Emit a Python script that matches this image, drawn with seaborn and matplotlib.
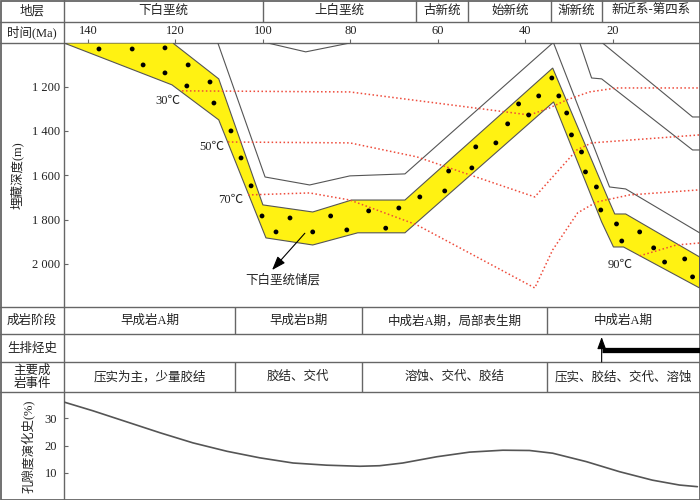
import numpy as np
import pandas as pd
import seaborn as sns
import matplotlib.pyplot as plt

sns.set_theme(style='white')
plt.rcParams['font.family'] = ['Liberation Serif', 'Noto Sans CJK SC']
plt.rcParams['axes.unicode_minus'] = False

# ---------------- data ----------------
unit_names = ['下白垩统', '上白垩统', '古新统', '始新统', '渐新统', '新近系-第四系']
unit_bounds = [145.5, 100, 65, 53, 34, 22.5, 0]

time_ticks = [140, 120, 100, 80, 60, 40, 20]
depth_ticks = [1200, 1400, 1600, 1800, 2000]
depth_labels = ['1 200', '1 400', '1 600', '1 800', '2 000']

# reservoir band outline (Ma, m)
band_t = [145.5, 120.6, 110.1, 100.0, 88.6, 79.7, 67.5, 33.7, 20.9, 19.5, 17.0, 0.1,
          0.1, 17.5, 19.8, 22.5, 33.5, 67.5, 78.3, 88.6, 99.3, 110.1, 120.8]
band_d = [1003, 1003, 1165, 1734, 1766, 1712, 1712, 1116, 1712, 1775, 1775, 1969,
          2109, 1924, 1924, 1811, 1269, 1860, 1860, 1915, 1883, 1350, 1192]

dot_t = [137.5, 129.9, 122.4, 127.4, 117.1, 122.4, 112.1, 117.4, 111.2, 107.3,
         105.0, 102.7, 100.2, 93.8, 97.0, 88.6, 84.5, 80.8, 75.8, 68.9,
         71.9, 64.1, 58.4, 57.5, 52.2, 51.3, 46.7, 44.0, 39.2, 41.5,
         36.9, 33.9, 32.3, 30.5, 29.4, 27.1, 26.2, 23.7, 22.7, 19.1,
         13.8, 17.9, 10.6, 8.1, 3.5, 1.7]
dot_d = [1030, 1030, 1025, 1102, 1102, 1138, 1179, 1197, 1274, 1400,
         1522, 1648, 1784, 1793, 1856, 1856, 1784, 1847, 1761, 1748,
         1839, 1698, 1671, 1581, 1567, 1472, 1454, 1368, 1328, 1278,
         1242, 1161, 1242, 1319, 1418, 1495, 1585, 1653, 1757, 1820,
         1856, 1897, 1928, 1992, 1978, 2059]

# other burial curves
lineA_t = [110.3, 99.5, 89.3, 80.1, 67.5, 33.7]
lineA_d = [1003, 1608, 1644, 1603, 1594, 1003]
lineB_t = [98.9, 90.2, 80.1]
lineB_d = [1003, 1043, 1003]
lineC_t = [33.5, 20.7, 17.0, 0.1]
lineC_d = [1003, 1653, 1662, 1860]
lineD_t = [27.5, 24.8, 22.5, 1.7, 0.1]
lineD_d = [1003, 1161, 1165, 1486, 1486]
lineE_t = [22.3, 1.7, 0.1]
lineE_d = [1003, 1337, 1337]

# isotherms
iso30_t = [118.5, 80.1, 39.0, 34.4, 30.5, 25.3, 19.1, 0.1]
iso30_d = [1219, 1224, 1328, 1296, 1260, 1224, 1206, 1206]
iso50_t = [108.0, 80.1, 64.8, 37.8, 28.2, 24.8, 0.1]
iso50_d = [1450, 1454, 1517, 1698, 1486, 1454, 1418]
iso70_t = [103.4, 89.3, 80.1, 64.8, 37.8, 33.7, 28.0, 23.7, 16.1, 0.1]
iso70_d = [1689, 1680, 1712, 1824, 2109, 1937, 1770, 1721, 1689, 1666]
iso90_t = [13.8, 5.4, 0.1]
iso90_d = [1964, 1915, 1906]
iso_names = ['30℃', '50℃', '70℃', '90℃']

# diagenesis
stage_bounds = [145.5, 106.4, 77.4, 34.9, 0]
stage_names = ['早成岩A期', '早成岩B期', '中成岩A期，局部表生期', '中成岩A期']
event_names = ['压实为主，少量胶结', '胶结、交代', '溶蚀、交代、胶结', '压实、胶结、交代、溶蚀']
hc_start = 22.5

# porosity evolution
por_t = [145.7, 138.9, 131.1, 123.5, 116.0, 108.2, 100.7, 93.1, 85.4, 77.8, 73.3,
         68.0, 60.2, 52.7, 45.1, 39.0, 33.7, 26.0, 18.4, 10.9, 4.7, 0.6]
por_v = [36.1, 32.8, 28.7, 24.7, 21.0, 17.9, 15.5, 13.6, 12.8, 12.4, 12.6,
         13.6, 15.9, 17.6, 18.3, 18.2, 17.2, 14.1, 10.4, 7.3, 5.5, 4.9]

# ---------------- layout ----------------
W, H = 700, 500


def box(x0, y0, x1, y1):
    return [x0 / W, 1 - y1 / H, (x1 - x0) / W, (y1 - y0) / H]


line_c = '#666666'
text_c = '#222222'
red_c = '#EE4B3B'
fs = 9

fig = plt.figure(figsize=(7, 5), dpi=100)

bg = fig.add_axes([0, 0, 1, 1])
bg.set_xlim(0, W)
bg.set_ylim(H, 0)
bg.axis('off')
for y in [22, 43, 307, 334, 362, 392]:
    bg.plot([0, W], [y, y], color=line_c, lw=1)
bg.plot([64, 64], [0, H], color=line_c, lw=1)
bg.add_patch(plt.Rectangle((0.5, 0.5), W - 1, H - 1, fill=False, ec=line_c, lw=1.3))

bg.text(32, 11, '地层', ha='center', va='center', fontsize=fs, color=text_c)
bg.text(32, 32, '时间(Ma)', ha='center', va='center', fontsize=fs, color=text_c)
bg.text(17, 175, '埋藏深度(m)', ha='center', va='center', rotation=90, fontsize=fs, color=text_c)
bg.text(32, 321, '成岩阶段', ha='center', va='center', fontsize=fs, color=text_c)
bg.text(32, 348, '生排烃史', ha='center', va='center', fontsize=fs, color=text_c)
bg.text(32, 377, '主要成\n岩事件', ha='center', va='center', fontsize=fs, color=text_c,
        linespacing=1.1)
bg.text(28, 446, '孔隙度演化史(%)', ha='center', va='center', rotation=90, fontsize=fs,
        color=text_c)

# depth panel
ad = fig.add_axes(box(64, 43, 700, 307))
ad.patch.set_alpha(0)
ad.fill(band_t, band_d, facecolor='#FFF212', edgecolor='#555555', lw=0.8, zorder=2)

for lt, ld in [(lineA_t, lineA_d), (lineB_t, lineB_d), (lineC_t, lineC_d),
               (lineD_t, lineD_d), (lineE_t, lineE_d)]:
    sns.lineplot(x=lt, y=ld, ax=ad, sort=False, estimator=None, color='#555555', lw=0.8,
                 zorder=3)

for lt, ld in [(iso30_t, iso30_d), (iso50_t, iso50_d), (iso70_t, iso70_d), (iso90_t, iso90_d)]:
    sns.lineplot(x=lt, y=ld, ax=ad, sort=False, estimator=None, color=red_c, lw=1.1,
                 linestyle=(0, (1, 1.6)), zorder=4)

sns.scatterplot(x=dot_t, y=dot_d, ax=ad, color='black', s=12, edgecolor='none', zorder=5)

for name, (tx, dy) in zip(iso_names, [(121.7, 1265), (111.7, 1472), (107.3, 1712), (18.2, 2005)]):
    ad.text(tx, dy, name, ha='center', va='center', fontsize=fs, color=text_c)

ad.annotate('', xy=(97.9, 2028), xytext=(90.4, 1862),
            arrowprops=dict(arrowstyle='-|>,head_width=0.25,head_length=0.7', color='black',
                            lw=0.8, shrinkA=0, shrinkB=0))
ad.text(95.4, 2073, '下白垩统储层', ha='center', va='center', fontsize=fs, color=text_c)

for sp in ad.spines.values():
    sp.set_visible(False)
ad.xaxis.tick_top()
ad.set_xticks(time_ticks)
ad.set_xticklabels([str(t) for t in time_ticks])
ad.tick_params(axis='x', top=True, bottom=False, labeltop=True, labelbottom=False,
               direction='out', length=3, width=0.8, color=line_c, pad=1.5,
               labelsize=fs, labelcolor=text_c)
ad.set_yticks(depth_ticks)
ad.set_yticklabels(depth_labels)
ad.tick_params(axis='y', left=True, direction='in', length=3, width=0.8, color=line_c,
               pad=3, labelsize=fs, labelcolor=text_c)
ad.set_xlabel('')
ad.set_ylabel('')

# header
ah = fig.add_axes(box(64, 0, 700, 43), sharex=ad)
ah.set_ylim(43, 0)
ah.axis('off')
ah.vlines(unit_bounds[1:-1], 0, 22, color=line_c, lw=1)
for name, a, b in zip(unit_names, unit_bounds[:-1], unit_bounds[1:]):
    ah.text((a + b) / 2, 11, name, ha='center', va='center', fontsize=fs, color=text_c)

# diagenesis rows
at = fig.add_axes(box(64, 307, 700, 392), sharex=ad)
at.set_ylim(392, 307)
at.axis('off')
at.vlines(stage_bounds[1:-1], 307, 334, color=line_c, lw=1)
at.vlines(stage_bounds[1:-1], 362, 392, color=line_c, lw=1)
for sname, ename, a, b in zip(stage_names, event_names, stage_bounds[:-1], stage_bounds[1:]):
    at.text((a + b) / 2, 321, sname, ha='center', va='center', fontsize=fs, color=text_c)
    at.text((a + b) / 2, 377, ename, ha='center', va='center', fontsize=fs, color=text_c)
at.annotate('', xy=(hc_start, 337), xytext=(hc_start, 362),
            arrowprops=dict(arrowstyle='-|>,head_width=0.22,head_length=0.6', color='black',
                            lw=0.8, shrinkA=0, shrinkB=0))
at.hlines(350, hc_start, 0, color='black', lw=3.8)

# porosity panel
ap = fig.add_axes(box(64, 392, 700, 500), sharex=ad)
ap.patch.set_alpha(0)
sns.lineplot(x=por_t, y=por_v, ax=ap, sort=False, estimator=None, color='#555555', lw=1.2)
for sp in ap.spines.values():
    sp.set_visible(False)
ap.set_ylim(0, 39.7)
ap.set_yticks([10, 20, 30])
ap.tick_params(axis='y', left=True, direction='in', length=3, width=0.8, color=line_c,
               pad=5, labelsize=fs, labelcolor=text_c)
ap.tick_params(axis='x', bottom=False, labelbottom=False, top=False, labeltop=False)
ap.set_xlabel('')
ap.set_ylabel('')

ad.set_xlim(145.5, 0)
ad.set_ylim(2195, 1003)

fig.savefig('out.png', dpi=100)
